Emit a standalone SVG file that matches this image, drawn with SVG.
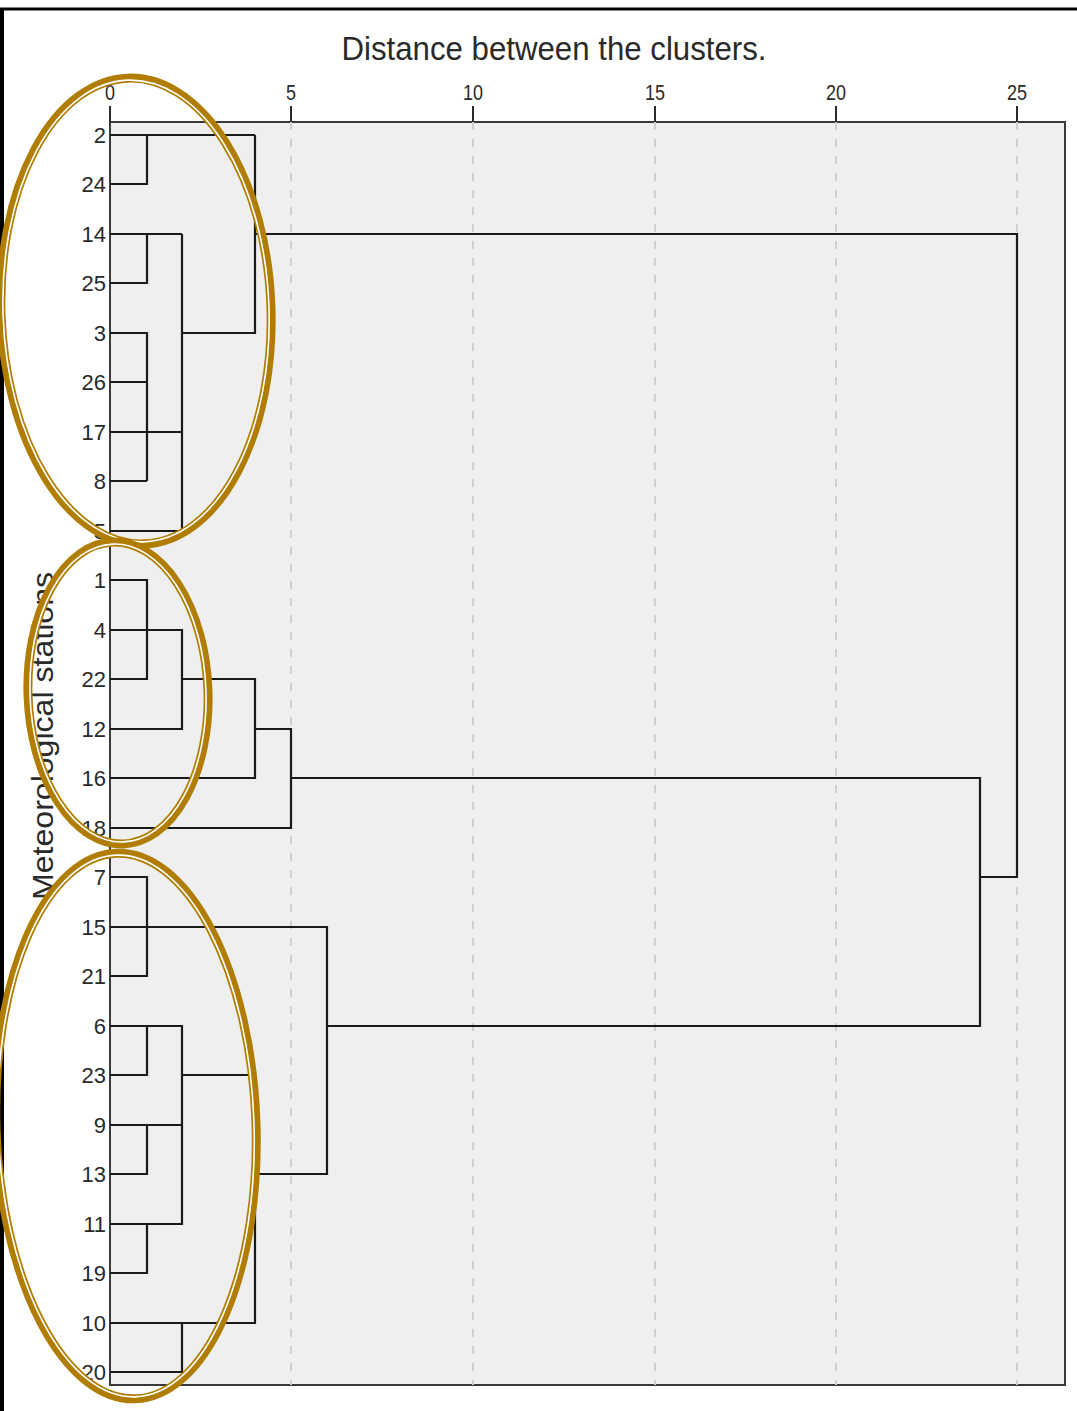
<svg xmlns="http://www.w3.org/2000/svg" width="1077" height="1411" viewBox="0 0 1077 1411">
<style>
.lbl{font-family:"Liberation Sans",Arial,sans-serif;fill:#2a2a2a}
.leaf{font-size:22px;text-anchor:end}
.tick{font-size:22px;text-anchor:middle}
.grid{stroke:#cfcfcf;stroke-width:2;stroke-dasharray:8 9;fill:none}
.link{stroke:#1a1a1a;stroke-width:2.2;fill:none}
.ring{fill:none;stroke:#b07d00;stroke-width:9}
.gap{fill:none;stroke:#ffffff;stroke-width:1.6}
</style>
<rect x="0" y="0" width="1077" height="1411" fill="#ffffff"/>
<g id="frame">
<line x1="0" y1="9" x2="1077" y2="9" stroke="#000" stroke-width="3"/>
<line x1="2" y1="8" x2="2" y2="1411" stroke="#000" stroke-width="4"/>
</g>
<text id="title" class="lbl" x="554" y="60" font-size="33" text-anchor="middle" textLength="425" lengthAdjust="spacingAndGlyphs">Distance between the clusters.</text>
<g id="plot">
<rect x="110" y="122" width="955" height="1263" fill="#efefef" stroke="#3a3a3a" stroke-width="2"/>
<path class="grid" d="M291,122V1385M473,122V1385M655,122V1385M836,122V1385M1017,122V1385"/>
<path d="M110,106V122M291,106V122M473,106V122M655,106V122M836,106V122M1017,106V122" stroke="#2a2a2a" stroke-width="2"/>
<g class="lbl tick">
<text x="110" y="100" textLength="10" lengthAdjust="spacingAndGlyphs">0</text>
<text x="291" y="100" textLength="10" lengthAdjust="spacingAndGlyphs">5</text>
<text x="473" y="100" textLength="20" lengthAdjust="spacingAndGlyphs">10</text>
<text x="655" y="100" textLength="20" lengthAdjust="spacingAndGlyphs">15</text>
<text x="836" y="100" textLength="20" lengthAdjust="spacingAndGlyphs">20</text>
<text x="1017" y="100" textLength="20" lengthAdjust="spacingAndGlyphs">25</text>
</g>
</g>
<text id="yaxis" class="lbl" font-size="30" text-anchor="middle" transform="translate(53,736) rotate(-90)" textLength="328" lengthAdjust="spacingAndGlyphs">Meteorological stations</text>
<g id="leaves" class="lbl leaf">
<text x="106" y="143">2</text>
<text x="106" y="192">24</text>
<text x="106" y="242">14</text>
<text x="106" y="291">25</text>
<text x="106" y="341">3</text>
<text x="106" y="390">26</text>
<text x="106" y="440">17</text>
<text x="106" y="489">8</text>
<text x="106" y="539">5</text>
<text x="106" y="588">1</text>
<text x="106" y="638">4</text>
<text x="106" y="687">22</text>
<text x="106" y="737">12</text>
<text x="106" y="786">16</text>
<text x="106" y="836">18</text>
<text x="106" y="885">7</text>
<text x="106" y="935">15</text>
<text x="106" y="984">21</text>
<text x="106" y="1034">6</text>
<text x="106" y="1083">23</text>
<text x="106" y="1133">9</text>
<text x="106" y="1182">13</text>
<text x="106" y="1232">11</text>
<text x="106" y="1281">19</text>
<text x="106" y="1331">10</text>
<text x="106" y="1380">20</text>
</g>
<g id="connectors" class="link">
<path d="M110,135H255"/>
<path d="M110,184H147V135"/>
<path d="M110,234H182"/>
<path d="M110,283H147V234"/>
<path d="M110,333H147V481"/>
<path d="M110,382H147"/>
<path d="M110,432H182"/>
<path d="M110,481H147"/>
<path d="M110,531H182V234"/>
<path d="M182,333H255V135"/>
<path d="M255,234H1017V877H980"/>
<path d="M110,580H147V679H110"/>
<path d="M110,630H182V729H110"/>
<path d="M182,679H255V778H110"/>
<path d="M255,729H291V828H110"/>
<path d="M291,778H980V1026H327"/>
<path d="M110,877H147V976H110"/>
<path d="M110,927H327V1174H255"/>
<path d="M110,1026H182V1224H110"/>
<path d="M110,1075H147V1026"/>
<path d="M110,1125H182"/>
<path d="M110,1174H147V1125"/>
<path d="M110,1273H147V1224"/>
<path d="M182,1075H255V1323H110"/>
<path d="M182,1323V1372H110"/>
</g>
<g id="group1">
<ellipse class="ring" cx="136" cy="311" rx="135" ry="233" transform="rotate(-2 136 311)"/>
<ellipse class="gap" cx="136" cy="311" rx="133" ry="231" transform="rotate(-2 136 311)"/>
</g>
<g id="group2">
<ellipse class="ring" cx="118" cy="693" rx="90" ry="151" transform="rotate(-2 118 693)"/>
<ellipse class="gap" cx="118" cy="693" rx="88" ry="149" transform="rotate(-2 118 693)"/>
</g>
<g id="group3">
<ellipse class="ring" cx="126" cy="1126" rx="130" ry="273" transform="rotate(-2 126 1126)"/>
<ellipse class="gap" cx="126" cy="1126" rx="128" ry="271" transform="rotate(-2 126 1126)"/>
</g>
</svg>
